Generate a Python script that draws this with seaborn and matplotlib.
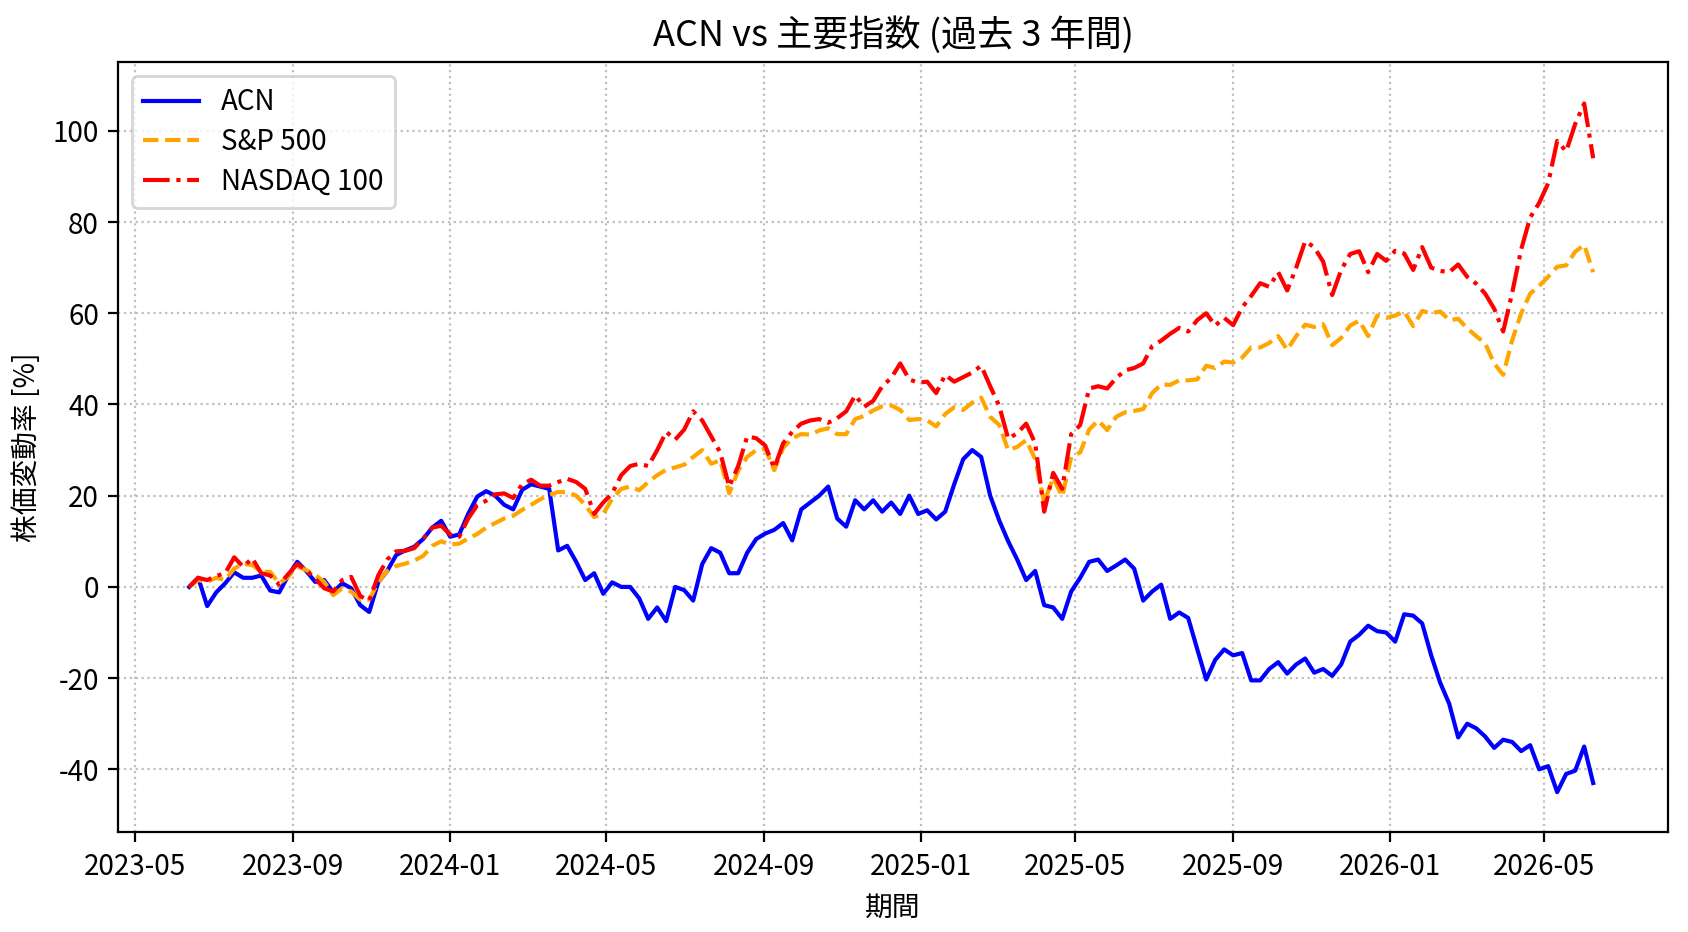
import pandas as pd
import matplotlib
matplotlib.use("Agg")
import matplotlib.pyplot as plt
import matplotlib.dates as mdates
import seaborn as sns

plt.rcParams['font.family'] = ['Noto Sans CJK JP', 'DejaVu Sans']
plt.rcParams['axes.unicode_minus'] = False

# 週次の読み取り値 (2023-06-12 から 7日刻み, 157 点)
start_date = '2023-06-12'
n_weeks = 157

acn = [0, 2, -4.2, -1.2, 0.8, 3.2, 2, 2, 2.5, -0.8,
       -1.2, 2.5, 5.5, 3.5, 1.1, 1.5, -1.2, 0.8, -0.3, -4,
       -5.5, 1, 3.5, 7, 8, 8.8, 10.5, 13, 14.5, 11,
       11.5, 16, 19.8, 21, 20, 18, 17, 21.3, 22.5, 22,
       21.5, 8, 9, 5.5, 1.5, 3, -1.5, 1, 0, 0,
       -2.5, -7, -4.5, -7.5, 0, -0.7, -3, 5, 8.5, 7.5,
       3, 3, 7.5, 10.5, 11.7, 12.5, 14, 10.2, 17, 18.5,
       20, 22, 15, 13.2, 19, 17, 19, 16.5, 18.5, 16,
       20, 16, 16.8, 14.8, 16.5, 22.5, 28, 30, 28.5, 20,
       14.6, 10, 6, 1.5, 3.5, -4, -4.5, -7, -1, 2,
       5.5, 6, 3.5, 4.7, 6, 4, -3, -1, 0.5, -7,
       -5.6, -6.8, -13.6, -20.3, -16, -13.7, -15, -14.5, -20.5, -20.5,
       -18, -16.5, -19, -17, -15.7, -18.8, -18, -19.5, -17, -12,
       -10.5, -8.5, -9.7, -10, -12, -6, -6.3, -8, -15, -21,
       -25.6, -33, -30, -31, -32.8, -35.3, -33.5, -34, -36, -34.7,
       -40, -39.3, -45, -41, -40.3, -35, -43]

sp500 = [0, 1.5, 1.1, 2, 1.5, 4, 5.1, 4.8, 3.3, 3.3,
         0.8, 2.2, 4.5, 3.7, 2.6, 1.1, -1.8, -0.3, -1, -2.8,
         -2.8, 1, 3.5, 4.6, 5.1, 5.8, 6.8, 9, 10, 9.3,
         9.5, 10.6, 11.6, 13, 14, 15, 15.6, 16.9, 18, 19.2,
         20.2, 20.8, 20.8, 20, 18, 15.3, 16, 19.3, 21.5, 22,
         21.2, 23, 24.5, 25.7, 26.2, 26.8, 28.5, 30, 27, 27.8,
         20.5, 25.5, 28.5, 30, 30.3, 25.6, 30.5, 32.6, 33.5, 33.4,
         34.3, 34.8, 33.5, 33.5, 36.8, 37.5, 38.7, 39.6, 39.8, 38.8,
         36.6, 36.8, 36.5, 35.2, 37.9, 39.4, 38.8, 40.4, 41.5, 37.3,
         35.5, 30, 30.7, 32.2, 28, 18.5, 24, 19.8, 28.5, 29.5,
         34.5, 36.5, 34.4, 37.3, 38.3, 38.6, 39, 42.5, 44.4, 44.3,
         45.3, 45.3, 45.5, 48.5, 48, 49.4, 49.2, 50.3, 52.5, 52.5,
         53.5, 55, 52, 55, 57.5, 57, 57.6, 53, 54.6, 57.3,
         58.4, 55, 59.5, 59, 59.5, 60.4, 57.2, 60.5, 60, 60.4,
         58.5, 58.8, 56.7, 55, 53.4, 49, 46.5, 54.1, 60, 64.3,
         66, 68, 70.2, 70.5, 73.5, 75, 69]

nasdaq100 = [0, 2, 1.5, 2.4, 3, 6.5, 4.4, 6.3, 3, 2.5,
             0.5, 2.8, 5, 3.7, 1.8, -0.3, -1, 1.5, 2.2, -2,
             -3, 2.5, 6, 7.8, 7.9, 8.5, 10.6, 13, 13.4, 11.5,
             11, 15, 17.9, 18.9, 20.3, 20.5, 19.5, 22.5, 23.5, 22.2,
             22.2, 23, 23.7, 23, 21.5, 16, 18.5, 20.5, 24.5, 26.5,
             27, 26.5, 30, 34, 32.3, 34.5, 38.5, 36.5, 33, 29.5,
             22, 26.5, 33, 32.6, 31, 26, 31.5, 34, 35.8, 36.5,
             36.8, 36, 37, 38.5, 42, 39.5, 40.8, 44, 45.8, 49,
             45.5, 44.8, 45, 42.5, 46.5, 45, 46, 47, 48.5, 44,
             39.7, 32.5, 33.7, 35.8, 31.5, 16.5, 25, 21.5, 33.5, 35.5,
             43.5, 44, 43.5, 45.8, 47.5, 48, 49, 52.8, 54, 55.5,
             56.8, 56, 58.5, 60, 57.3, 59, 57.4, 61.3, 63.8, 66.6,
             65.8, 69, 65, 70, 75.8, 74.5, 71.3, 64, 69.5, 73,
             73.6, 69, 73, 71.5, 73.7, 73.1, 69.5, 74.5, 70, 69.3,
             69, 70.7, 68, 66.5, 64.3, 61, 56, 64.5, 74, 81,
             84.2, 88.5, 97.8, 95.5, 101.5, 106, 94]

dates = pd.date_range(start_date, periods=n_weeks, freq='7D')
df = pd.DataFrame({'date': dates, 'ACN': acn, 'S&P 500': sp500, 'NASDAQ 100': nasdaq100})

fig, ax = plt.subplots(figsize=(8.44, 4.66), dpi=200)
fig.subplots_adjust(left=0.0702, right=0.988, top=0.933, bottom=0.107)

sns.lineplot(data=df, x='date', y='ACN', ax=ax, color='blue', linestyle='-', label='ACN')
sns.lineplot(data=df, x='date', y='S&P 500', ax=ax, color='orange', linestyle='--', label='S&P 500')
sns.lineplot(data=df, x='date', y='NASDAQ 100', ax=ax, color='red', linestyle='-.', label='NASDAQ 100')

ax.set_xlim(pd.Timestamp('2023-04-18'), pd.Timestamp('2026-08-05'))
ax.set_ylim(-53.8, 115)
ax.xaxis.set_major_locator(mdates.MonthLocator(bymonth=[1, 5, 9]))
ax.xaxis.set_major_formatter(mdates.DateFormatter('%Y-%m'))
ax.grid(True, linestyle=':', color='0.75', linewidth=0.8)

ax.set_title('ACN vs 主要指数 (過去 3 年間)', fontsize=13)
ax.set_xlabel('期間')
ax.set_ylabel('株価変動率 [%]')
ax.legend(loc='upper left', labelspacing=0.35, fontsize=10)

fig.savefig('out.png', dpi=200)
